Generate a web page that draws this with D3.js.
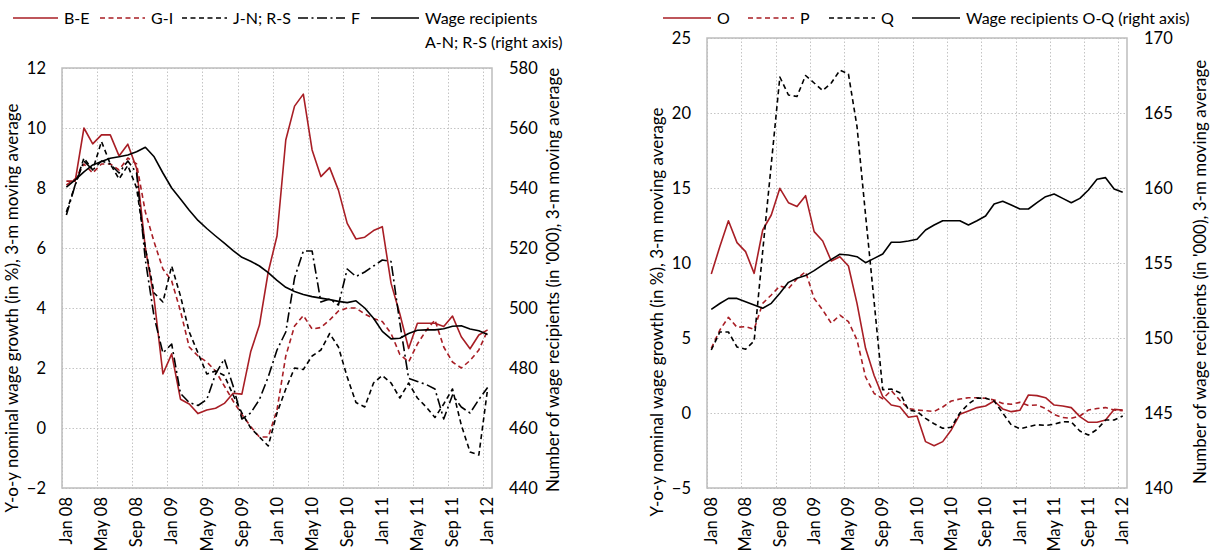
<!DOCTYPE html>
<html>
<head>
<meta charset="utf-8">
<script src="https://cdn.jsdelivr.net/npm/d3@7"></script>
<style>
  body { margin: 0; background: #fff; }
  svg { display: block; font-family: Lato, "Open Sans", sans-serif; }
</style>
</head>
<body>
<svg id="chart" width="1217" height="551"></svg>
<script>
// Monthly categories, Jan 2008 - Jan 2012
const months = d3.timeMonth.range(new Date(2008, 0, 1), new Date(2012, 1, 1)).map(d3.timeFormat("%b %y"));
const xTickLabels = ["Jan 08", "May 08", "Sep 08", "Jan 09", "May 09", "Sep 09", "Jan 10",
                     "May 10", "Sep 10", "Jan 11", "May 11", "Sep 11", "Jan 12"];

// Left panel: y-o-y nominal wage growth (%), 3-m moving average
const seriesBE = [8.23, 8.23, 10.0, 9.47, 9.77, 9.77, 9.07, 9.46, 8.66, 6.0, 4.3, 1.8, 2.47, 0.96, 0.8, 0.48,
                  0.6, 0.66, 0.82, 1.16, 1.13, 2.54, 3.43, 5.2, 6.4, 9.6, 10.73, 11.13, 9.27, 8.38, 8.68, 7.93,
                  6.82, 6.3, 6.36, 6.58, 6.71, 4.82, 3.8, 2.65, 3.49, 3.49, 3.49, 3.38, 3.73, 3.04, 2.64, 3.1, 3.27];
const seriesGI = [8.1, 8.3, 8.8, 8.5, 8.8, 8.8, 8.6, 9.0, 8.8, 7.2, 6.2, 5.3, 4.9, 3.9, 2.7, 2.4,
                  2.2, 1.9, 1.4, 0.9, 0.45, 0.05, -0.3, -0.3, 0.6, 2.4, 3.4, 3.75, 3.3, 3.35, 3.6, 3.9,
                  4.0, 4.0, 3.8, 3.65, 3.55, 3.15, 2.45, 2.2, 2.8, 3.25, 3.6, 2.7, 2.2, 2.0, 2.25, 2.6, 3.25];
const seriesJN = [7.2, 8.1, 9.0, 8.6, 9.55, 8.8, 8.3, 8.75, 8.0, 6.0, 4.5, 4.2, 5.4, 4.4, 3.2, 2.5,
                  1.8, 1.9, 1.75, 1.1, 0.5, 0.0, -0.3, -0.6, 0.5, 1.3, 2.0, 1.95, 2.4, 2.6, 3.15, 2.7,
                  1.7, 0.85, 0.7, 1.5, 1.75, 1.5, 1.0, 1.5, 1.0, 0.7, 0.35, 0.8, 1.3, 0.1, -0.8, -0.9, 1.3];
const seriesF  = [7.1, 8.1, 8.9, 8.6, 8.9, 8.8, 8.5, 8.9, 8.5, 5.6, 3.7, 2.5, 2.8, 1.15, 0.85, 0.75,
                  0.95, 1.8, 2.3, 1.4, 0.3, 0.5, 0.95, 1.7, 2.6, 3.2, 5.0, 5.9, 5.9, 4.2, 4.3, 4.1,
                  5.3, 5.05, 5.2, 5.4, 5.6, 5.55, 3.5, 1.65, 1.55, 1.45, 1.3, 0.3, 1.1, 0.7, 0.5, 0.95, 1.35];
// Wage recipients A-N; R-S ('000), right axis
const wageAN   = [540.3, 542.7, 545.4, 547.7, 548.8, 549.9, 550.4, 551.0, 552.1, 553.6, 550.4, 545.0, 540.0,
                  536.3, 532.6, 529.2, 526.5, 524.0, 521.6, 519.1, 516.9, 515.6, 514.0, 511.8, 509.2, 506.9,
                  505.5, 504.5, 503.8, 503.3, 502.8, 502.2, 501.8, 502.4, 500.0, 496.6, 492.2, 489.7, 489.9,
                  491.5, 492.6, 492.7, 492.7, 493.1, 493.9, 494.1, 493.0, 492.4, 491.2];

// Right panel: sections O, P, Q
const seriesO  = [9.27, 11.1, 12.82, 11.36, 10.76, 9.31, 12.2, 13.2, 14.98, 14.02, 13.76, 14.49, 12.09,
                  11.47, 10.13, 10.42, 9.8, 7.31, 4.31, 2.5, 1.1, 0.53, 0.42, -0.28, -0.2, -1.91, -2.18,
                  -1.91, -1.13, -0.09, 0.13, 0.36, 0.47, 0.8, 0.27, 0.09, 0.18, 1.2, 1.16, 1.02, 0.53,
                  0.47, 0.36, -0.24, -0.62, -0.62, -0.47, 0.24, 0.2];
const seriesP  = [4.31, 5.53, 6.38, 5.71, 5.76, 5.58, 7.31, 7.87, 8.47, 8.3, 8.95, 9.42, 7.64, 6.87,
                  5.98, 6.53, 6.09, 4.87, 2.4, 1.3, 0.95, 1.5, 0.85, 0.3, 0.2, 0.15, 0.1, 0.4, 0.8,
                  0.93, 1.02, 1.02, 0.98, 0.87, 0.64, 0.58, 0.71, 0.5, 0.53, 0.3, -0.1, -0.3, -0.35,
                  -0.2, 0.2, 0.3, 0.36, 0.2, 0.16];
const seriesQ  = [4.2, 5.4, 5.4, 4.4, 4.25, 4.8, 10.8, 16.6, 22.4, 21.2, 21.1, 22.5, 22.0, 21.5, 22.0,
                  22.85, 22.6, 19.1, 13.2, 7.4, 1.55, 1.6, 1.35, 0.2, 0.1, -0.36, -0.72, -1.02, -0.95,
                  0.0, 0.6, 1.0, 0.98, 0.8, 0.0, -0.8, -1.05, -0.91, -0.78, -0.83, -0.75, -0.58, -0.6,
                  -1.2, -1.47, -1.1, -0.47, -0.47, -0.2];
// Wage recipients O-Q ('000), right axis
const wageOQ   = [151.91, 152.3, 152.64, 152.64, 152.42, 152.2, 151.98, 152.31, 152.98, 153.71, 153.98,
                  154.16, 154.49, 154.87, 155.24, 155.58, 155.53, 155.42, 155.02, 155.31, 155.6, 156.38,
                  156.38, 156.47, 156.58, 157.2, 157.53, 157.82, 157.82, 157.82, 157.53, 157.82, 158.13,
                  158.93, 159.11, 158.87, 158.6, 158.6, 159.02, 159.42, 159.6, 159.31, 159.02, 159.31,
                  159.87, 160.58, 160.69, 159.93, 159.71];

const leftTicks1 = [-2, 0, 2, 4, 6, 8, 10, 12];
const rightTicks1 = [440, 460, 480, 500, 520, 540, 560, 580];
const leftTicks2 = [-5, 0, 5, 10, 15, 20, 25];
const rightTicks2 = [140, 145, 150, 155, 160, 165, 170];

const RED = "#a81e25";
const BLACK = "#000";
const DASH = "5,3.5";
const DASHDOT = "10,3.5,2,3.5";
const FONT = 16;
const TICK_FONT = 16.5;
const TITLE_FONT = 17;
const leftTitle = "Y-o-y nominal wage growth (in %), 3-m moving average";
const rightTitle = "Number of wage recipients (in '000), 3-m moving average";

const svg = d3.select("#chart");

function drawPanel(cfg) {
  const g = svg.append("g");
  const x = d3.scaleBand().domain(months).range([cfg.left, cfg.right]).padding(0);
  const cx = m => x(m) + x.bandwidth() / 2;
  const y = d3.scaleLinear().domain(cfg.yDomain).range([cfg.bottom, cfg.top]);
  const y2 = d3.scaleLinear().domain(cfg.y2Domain).range([cfg.bottom, cfg.top]);

  // dotted grid
  const grid = g.append("g").attr("stroke", "#c4c4c4").attr("stroke-width", 1).attr("stroke-dasharray", "1.5,2");
  grid.selectAll("line.h").data(cfg.yTicks).join("line")
    .attr("x1", cfg.left).attr("x2", cfg.right)
    .attr("y1", d => Math.round(y(d)) + 0.5).attr("y2", d => Math.round(y(d)) + 0.5);
  grid.selectAll("line.v").data(xTickLabels).join("line")
    .attr("x1", d => Math.round(x(d)) + 0.5).attr("x2", d => Math.round(x(d)) + 0.5)
    .attr("y1", cfg.top).attr("y2", cfg.bottom);

  // plot frame
  g.append("rect")
    .attr("x", cfg.left).attr("y", cfg.top)
    .attr("width", cfg.right - cfg.left).attr("height", cfg.bottom - cfg.top)
    .attr("fill", "none").attr("stroke", "#bdbdbd").attr("stroke-width", 1.5);

  // axes
  const axL = g.append("g").attr("transform", `translate(${cfg.left},0)`)
    .call(d3.axisLeft(y).tickValues(cfg.yTicks).tickSize(0).tickPadding(16));
  const axR = g.append("g").attr("transform", `translate(${cfg.right},0)`)
    .call(d3.axisRight(y2).tickValues(cfg.y2Ticks).tickSize(0).tickPadding(17));
  const axB = g.append("g").attr("transform", `translate(0,${cfg.bottom})`)
    .call(d3.axisBottom(x).tickValues(xTickLabels).tickSize(0));
  [axL, axR, axB].forEach(a => {
    a.select(".domain").remove();
    a.selectAll("text").attr("font-size", TICK_FONT).attr("font-family", "Lato, 'Open Sans', sans-serif").attr("fill", "#000");
  });
  axB.selectAll("text")
    .attr("transform", "rotate(-90)")
    .attr("text-anchor", "end")
    .attr("x", -9).attr("y", 0).attr("dy", "0.35em");

  // axis titles
  g.append("text")
    .attr("transform", `translate(${cfg.titleLeftX},${cfg.titleLeftY}) rotate(-90)`)
    .attr("text-anchor", "middle").attr("dy", "0.35em").attr("font-size", TITLE_FONT)
    .text(leftTitle);
  g.append("text")
    .attr("transform", `translate(${cfg.titleRightX},${cfg.titleRightY}) rotate(-90)`)
    .attr("text-anchor", "middle").attr("dy", "0.35em").attr("font-size", TITLE_FONT)
    .text(rightTitle);

  // series
  cfg.series.forEach(s => {
    const sc = s.axis === "right" ? y2 : y;
    const line = d3.line().x((d, i) => cx(months[i])).y(d => sc(d));
    g.append("path").datum(s.values)
      .attr("d", line)
      .attr("fill", "none")
      .attr("stroke", s.color)
      .attr("stroke-width", 1.6)
      .attr("stroke-linejoin", "round")
      .attr("stroke-dasharray", s.dash || null);
  });

  // legend
  const lg = g.append("g").attr("font-size", FONT);
  cfg.series.forEach(s => {
    lg.append("line")
      .attr("x1", s.lx0).attr("x2", s.lx1).attr("y1", cfg.legendY).attr("y2", cfg.legendY)
      .attr("stroke", s.color).attr("stroke-width", 1.6).attr("stroke-dasharray", s.dash || null);
    const t = lg.append("text").attr("x", s.lx1 + 6).attr("y", cfg.legendY).attr("dy", "0.35em");
    s.label.forEach((ln, k) => {
      t.append("tspan").attr("x", s.lx1 + 6).attr("dy", k === 0 ? "0.35em" : "1.55em").text(ln);
    });
  });
}

drawPanel({
  left: 62, right: 492, top: 68, bottom: 488,
  yDomain: [-2, 12], y2Domain: [440, 580], yTicks: leftTicks1, y2Ticks: rightTicks1,
  titleLeftX: 12, titleLeftY: 308, titleRightX: 553, titleRightY: 280,
  legendY: 18,
  series: [
    { values: seriesBE, color: RED, label: ["B-E"], lx0: 13, lx1: 58 },
    { values: seriesGI, color: RED, dash: DASH, label: ["G-I"], lx0: 100, lx1: 145 },
    { values: seriesJN, color: BLACK, dash: DASH, label: ["J-N; R-S"], lx0: 182, lx1: 227 },
    { values: seriesF, color: BLACK, dash: DASHDOT, label: ["F"], lx0: 298, lx1: 345 },
    { values: wageAN, color: BLACK, axis: "right", label: ["Wage recipients", "A-N; R-S (right axis)"], lx0: 371, lx1: 419 }
  ]
});

drawPanel({
  left: 707, right: 1127, top: 38, bottom: 488,
  yDomain: [-5, 25], y2Domain: [140, 170], yTicks: leftTicks2, y2Ticks: rightTicks2,
  titleLeftX: 657, titleLeftY: 312, titleRightX: 1200, titleRightY: 272,
  legendY: 18,
  series: [
    { values: seriesO, color: RED, label: ["O"], lx0: 663, lx1: 711 },
    { values: seriesP, color: RED, dash: DASH, label: ["P"], lx0: 748, lx1: 794 },
    { values: seriesQ, color: BLACK, dash: DASH, label: ["Q"], lx0: 829, lx1: 875 },
    { values: wageOQ, color: BLACK, axis: "right", label: ["Wage recipients O-Q (right axis)"], lx0: 912, lx1: 960 }
  ]
});
</script>
</body>
</html>
